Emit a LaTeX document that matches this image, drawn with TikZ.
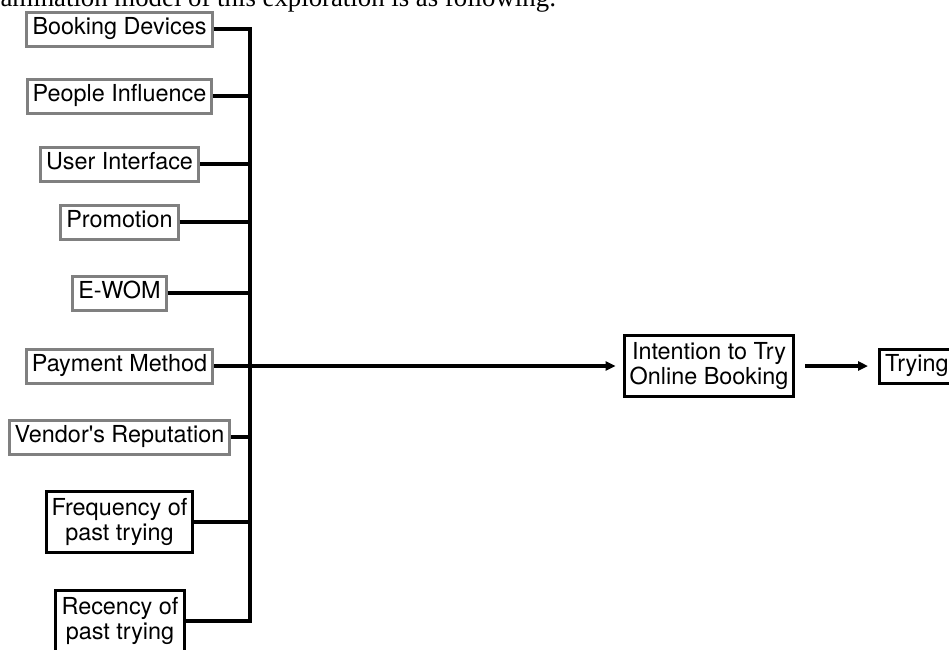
\documentclass[tikz,border=0pt]{standalone}
\usepackage{fontspec}
\setmainfont{Liberation Serif}
\newfontfamily\figsans{TeX Gyre Heros}
\usetikzlibrary{arrows.meta}
\definecolor{boxgray}{RGB}{128,128,128}
\tikzset{
    boxbase/.style={line width=1.5pt, inner xsep=2.8pt, inner ysep=3pt,
        font=\figsans\fontsize{11.7}{12.5}\selectfont, align=center},
    factor/.style={boxbase, draw=boxgray, text height=8.4pt, text depth=2.6pt},
    pastbox/.style={boxbase, draw=black, inner ysep=3.5pt},
    link/.style={line width=1.6pt},
    arr/.style={link, -{Triangle[length=5pt,width=4.5pt]}},
}
\begin{document}
\begin{tikzpicture}[x=0.5pt, y=-0.5pt]
    \useasboundingbox (0,0) rectangle (949,649);

    % 正文残行
    \node[anchor=base east, inner sep=0pt, font=\fontsize{13.4}{15}\selectfont] (intro) at (557,6)
        {amination model of this exploration is as following:};

    % 左侧因素
    \node[factor] (bd) at (119.5,29) {Booking Devices};
    \node[factor] (pi) at (119.5,96) {People Influence};
    \node[factor] (ui) at (119.5,164) {User Interface};
    \node[factor] (pr) at (119.5,222) {Promotion};
    \node[factor] (ew) at (119.5,293) {E-WOM};
    \node[factor] (pm) at (119.5,366) {Payment Method};
    \node[factor] (vr) at (119.5,437) {Vendor's Reputation};
    \node[pastbox] (fp) at (119.5,522) {Frequency of\\past trying};
    \node[pastbox] (rp) at (120,621) {Recency of\\past trying};

    % 右侧结果
    \node[pastbox] (it) at (709,366) {Intention to Try\\Online Booking};
    \node[factor, draw=black, anchor=west] (tr) at (878,366) {Trying};

    % 汇总竖线
    \coordinate (bartop) at (250,29);
    \coordinate (barbot) at (250,621);
    \draw[link] (bd.east) -- (bartop) -- (barbot) -- (rp.east);
    \foreach \n in {pi,ui,pr,ew,vr,fp}
        \draw[link] (\n.east) -- (\n.east -| bartop);

    % 箭头
    \draw[arr, shorten >=3.5pt] (pm.east) -- (it.west);
    \draw[arr, shorten <=5pt, shorten >=5pt] (it) -- (tr);
\end{tikzpicture}
\end{document}
